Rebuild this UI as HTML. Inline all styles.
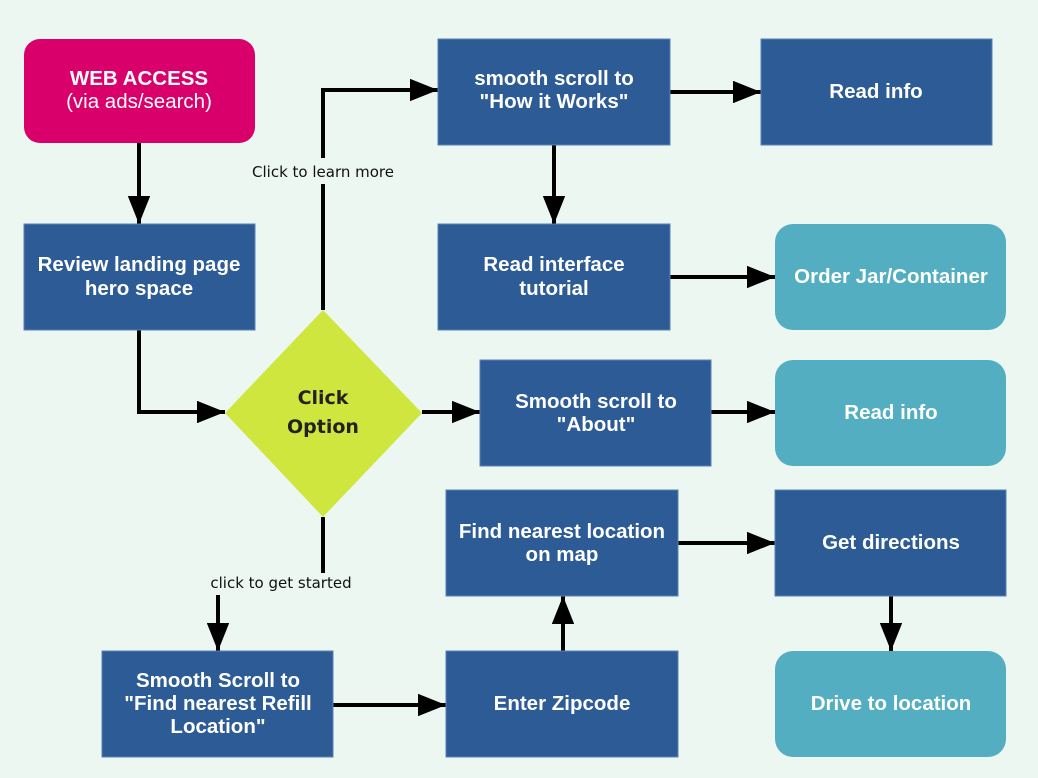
<!DOCTYPE html>
<html><head><meta charset="utf-8"><style>
html,body{margin:0;padding:0;background:#ebf7f0;}
svg{display:block}
.b{fill:#2d5b96;stroke:#5b82b5;stroke-width:1}
.t{fill:#52aec0}
.w{font-family:"Liberation Sans",sans-serif;font-weight:bold;font-size:20.5px;fill:#fff;text-anchor:middle}
.l{font-family:"DejaVu Sans",sans-serif;font-size:15px;fill:#111;text-anchor:middle}
.ln{stroke:#000;stroke-width:4;fill:none}
</style></head><body>
<svg width="1038" height="778" viewBox="0 0 1038 778" xmlns="http://www.w3.org/2000/svg">
<defs><marker id="a" markerWidth="7" markerHeight="5.6" refX="7" refY="2.8" orient="auto" markerUnits="strokeWidth"><path d="M0,0 L7,2.8 L0,5.6 z" fill="#000"/></marker></defs>
<rect width="1038" height="778" fill="#ebf7f0"/>
<path class="ln" d="M139,143 V224" marker-end="url(#a)"/>
<path class="ln" d="M139,330 V412 H225" marker-end="url(#a)"/>
<path class="ln" d="M323,310 V184"/>
<path class="ln" d="M323,158 V90 H438" marker-end="url(#a)"/>
<path class="ln" d="M670,92 H761" marker-end="url(#a)"/>
<path class="ln" d="M554,145 V224" marker-end="url(#a)"/>
<path class="ln" d="M670,277 H775" marker-end="url(#a)"/>
<path class="ln" d="M422,412 H480" marker-end="url(#a)"/>
<path class="ln" d="M711,412 H775" marker-end="url(#a)"/>
<path class="ln" d="M323,517 V573"/>
<path class="ln" d="M218,595 V651" marker-end="url(#a)"/>
<path class="ln" d="M333,705 H446" marker-end="url(#a)"/>
<path class="ln" d="M563,651 V596" marker-end="url(#a)"/>
<path class="ln" d="M678,543 H775" marker-end="url(#a)"/>
<path class="ln" d="M891,596 V651" marker-end="url(#a)"/>
<rect x="24" y="39" width="231" height="104" rx="16" fill="#d9006b"/>
<text class="w" x="139" y="85">WEB ACCESS</text>
<text class="w" x="139" y="108" style="font-weight:normal">(via ads/search)</text>
<rect class="b" x="24" y="224" width="231" height="106"/>
<text class="w" x="139" y="271">Review landing page</text><text class="w" x="139" y="295">hero space</text>
<polygon points="323,310 422,413 323,517 225,413" fill="#cfe63f"/>
<text x="323" y="404" style="font-family:'DejaVu Sans',sans-serif;font-weight:bold;font-size:19px;fill:#222;text-anchor:middle">Click</text>
<text x="323" y="433" style="font-family:'DejaVu Sans',sans-serif;font-weight:bold;font-size:19px;fill:#222;text-anchor:middle">Option</text>
<rect class="b" x="438" y="39" width="232" height="106"/>
<text class="w" x="554" y="85">smooth scroll to</text><text class="w" x="554" y="108">"How it Works"</text>
<rect class="b" x="761" y="39" width="231" height="106"/>
<text class="w" x="876" y="98">Read info</text>
<rect class="b" x="438" y="224" width="232" height="106"/>
<text class="w" x="554" y="271">Read interface</text><text class="w" x="554" y="295">tutorial</text>
<rect class="t" x="775" y="224" width="231" height="106" rx="18"/>
<text class="w" x="891" y="283">Order Jar/Container</text>
<rect class="b" x="480" y="360" width="231" height="106"/>
<text class="w" x="596" y="408">Smooth scroll to</text><text class="w" x="596" y="431">"About"</text>
<rect class="t" x="775" y="360" width="231" height="106" rx="18"/>
<text class="w" x="891" y="419">Read info</text>
<rect class="b" x="446" y="490" width="232" height="106"/>
<text class="w" x="562" y="538">Find nearest location</text><text class="w" x="562" y="561">on map</text>
<rect class="b" x="775" y="490" width="231" height="106"/>
<text class="w" x="891" y="549">Get directions</text>
<rect class="b" x="102" y="651" width="231" height="106"/>
<text class="w" x="218" y="687">Smooth Scroll to</text><text class="w" x="218" y="710">"Find nearest Refill</text><text class="w" x="218" y="733">Location"</text>
<rect class="b" x="446" y="651" width="232" height="106"/>
<text class="w" x="562" y="710">Enter Zipcode</text>
<rect class="t" x="775" y="651" width="231" height="106" rx="18"/>
<text class="w" x="891" y="710">Drive to location</text>
<text class="l" x="323" y="177">Click to learn more</text>
<text class="l" x="281" y="588">click to get started</text>
</svg>
</body></html>
